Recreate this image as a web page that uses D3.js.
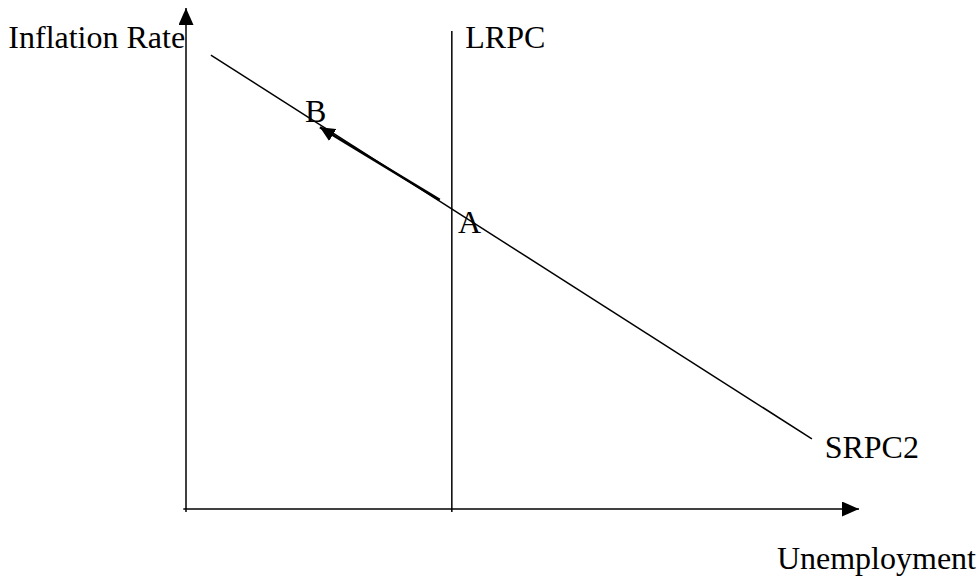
<!DOCTYPE html>
<html>
<head>
<meta charset="utf-8">
<script src="https://cdn.jsdelivr.net/npm/d3@7"></script>
<style>
  body { margin: 0; background: #fff; }
  text { font-family: "Liberation Serif", "Times New Roman", serif; font-size: 32px; fill: #000; }
</style>
</head>
<body>
<svg class="chart"></svg>
<script>
// curves in (unemployment, inflation) units
var srpc = [[0.37, 9.06], [9.3, 1.4]];
var lrpc = [[3.95, 9.54], [3.95, -0.06]];
var move = [[3.77, 6.17], [1.99, 7.62]];   // A -> B
var axisX = [[-0.04, 0], [10, 0]];
var axisY = [[0, -0.06], [0, 10]];
var labels = [
    { text: "Inflation Rate", x: -2.64, y: 9.2 },
    { text: "LRPC", x: 4.15, y: 9.2 },
    { text: "B", x: 1.77, y: 7.73 },
    { text: "A", x: 4.04, y: 5.51 },
    { text: "SRPC2", x: 9.49, y: 1.02 },
    { text: "Unemployment", x: 8.78, y: -1.2 }
];

var width = 980, height = 577;

var svg = d3.select(".chart")
    .attr("width", width)
    .attr("height", height);

var x = d3.scaleLinear().domain([0, 10]).range([186, 859]);
var y = d3.scaleLinear().domain([0, 10]).range([509, 8]);

var line = d3.line()
    .x(function (d) { return x(d[0]); })
    .y(function (d) { return y(d[1]); });

var defs = svg.append("defs");
function marker(id, len, wid) {
    defs.append("marker")
        .attr("id", id)
        .attr("viewBox", "0 0 " + len + " " + wid)
        .attr("refX", len)
        .attr("refY", wid / 2)
        .attr("markerWidth", len)
        .attr("markerHeight", wid)
        .attr("markerUnits", "userSpaceOnUse")
        .attr("orient", "auto")
        .append("path")
        .attr("d", "M0,0L" + len + "," + (wid / 2) + "L0," + wid + "Z")
        .attr("fill", "#000");
}
marker("head", 17, 15);
marker("small", 15, 14);

svg.append("path").datum(axisY)
    .attr("d", line).attr("fill", "none")
    .attr("stroke", "#000").attr("stroke-width", 1.5)
    .attr("marker-end", "url(#head)");

svg.append("path").datum(axisX)
    .attr("d", line).attr("fill", "none")
    .attr("stroke", "#000").attr("stroke-width", 1.5)
    .attr("marker-end", "url(#head)");

svg.append("path").datum(lrpc)
    .attr("d", line).attr("fill", "none")
    .attr("stroke", "#000").attr("stroke-width", 1.5);

svg.append("path").datum(srpc)
    .attr("d", line).attr("fill", "none")
    .attr("stroke", "#000").attr("stroke-width", 1.5);

svg.append("path").datum(move)
    .attr("d", line).attr("fill", "none")
    .attr("stroke", "#000").attr("stroke-width", 2.5)
    .attr("marker-end", "url(#small)");

svg.selectAll("text.lbl").data(labels)
    .enter().append("text")
    .attr("class", "lbl")
    .attr("x", function (d) { return x(d.x); })
    .attr("y", function (d) { return y(d.y); })
    .text(function (d) { return d.text; });
</script>
</body>
</html>
